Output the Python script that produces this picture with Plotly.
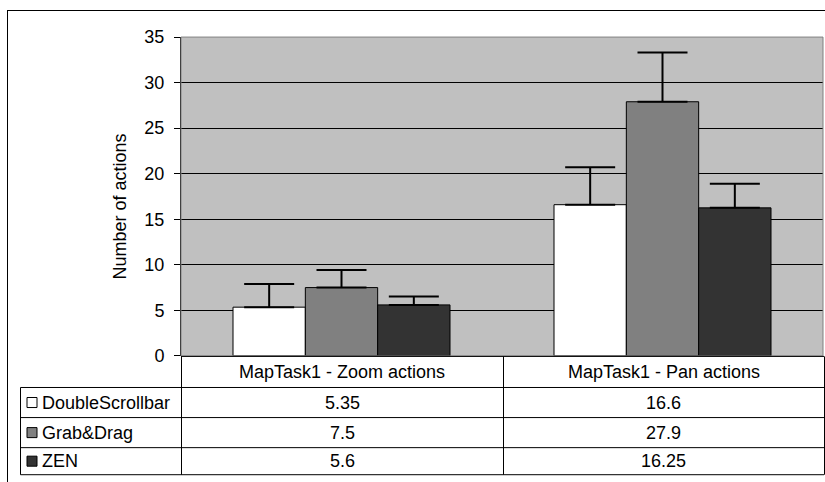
import plotly.graph_objects as go

categories = ["MapTask1 - Zoom actions", "MapTask1 - Pan actions"]
series_names = ["DoubleScrollbar", "Grab&Drag", "ZEN"]
series_values = {
    "DoubleScrollbar": [5.35, 16.6],
    "Grab&Drag": [7.5, 27.9],
    "ZEN": [5.6, 16.25],
}
series_errors = {
    "DoubleScrollbar": [2.54, 4.12],
    "Grab&Drag": [1.93, 5.4],
    "ZEN": [0.93, 2.65],
}
value_labels = {
    "DoubleScrollbar": ["5.35", "16.6"],
    "Grab&Drag": ["7.5", "27.9"],
    "ZEN": ["5.6", "16.25"],
}
colors = {"DoubleScrollbar": "#FFFFFF", "Grab&Drag": "#808080", "ZEN": "#333333"}
y_ticks = [0, 5, 10, 15, 20, 25, 30, 35]

W = 825
HF = 494          # figure height
OFF, S = 10, 0.957  # compensation for the capture's vertical offset / scale

def px(x):
    return x / W
def py(y):
    return 1 - ((y - OFF) / S) / HF

PL, PR, PT, PB = 181, 823, 37, 355
FONT = "Liberation Sans, Arial, sans-serif"

fig = go.Figure()
for name in series_names:
    fig.add_trace(go.Bar(
        x=categories, y=series_values[name], name=name,
        marker=dict(color=colors[name], line=dict(color="#000000", width=1)),
        error_y=dict(type="data", array=series_errors[name], arrayminus=[0] * len(categories),
                     symmetric=False, color="#000000", thickness=2, width=25),
        showlegend=False,
    ))

shapes = []
shapes.append(dict(type="rect", xref="paper", yref="paper", x0=px(PL), x1=px(PR), y0=py(PB), y1=py(PT),
                   line=dict(color="#808080", width=1), layer="above"))
shapes.append(dict(type="line", xref="paper", yref="paper", x0=px(7), x1=px(825), y0=py(10.5), y1=py(10.5),
                   line=dict(color="#000000", width=1)))
shapes.append(dict(type="line", xref="paper", yref="paper", x0=px(7.5), x1=px(7.5), y0=py(10), y1=0,
                   line=dict(color="#000000", width=1)))

col_x = [PL, 503, 824]
row_y = [355.5, 386.5, 416.5, 446.5, 473.5]
tbl_left = 20.5
line_style = dict(color="#000000", width=1)
shapes.append(dict(type="line", xref="paper", yref="paper", x0=px(PL), x1=px(824), y0=py(row_y[0]), y1=py(row_y[0]), line=line_style))
for ry in row_y[1:]:
    shapes.append(dict(type="line", xref="paper", yref="paper", x0=px(tbl_left), x1=px(824), y0=py(ry), y1=py(ry), line=line_style))
for cx in col_x:
    shapes.append(dict(type="line", xref="paper", yref="paper", x0=px(cx + 0.5), x1=px(cx + 0.5), y0=py(row_y[0]), y1=py(row_y[-1]), line=line_style))
shapes.append(dict(type="line", xref="paper", yref="paper", x0=px(tbl_left), x1=px(tbl_left), y0=py(row_y[1]), y1=py(row_y[-1]), line=line_style))

annotations = []
for i, cat in enumerate(categories):
    cxm = (col_x[i] + col_x[i + 1]) / 2
    annotations.append(dict(xref="paper", yref="paper", x=px(cxm), y=py((row_y[0] + row_y[1]) / 2),
                            text=cat, showarrow=False, font=dict(family=FONT, size=18, color="#000000"),
                            xanchor="center", yanchor="middle"))
for r, name in enumerate(series_names):
    yc = (row_y[r + 1] + row_y[r + 2]) / 2
    shapes.append(dict(type="rect", xref="paper", yref="paper", x0=px(27), x1=px(37), y0=py(yc + 5), y1=py(yc - 5),
                       fillcolor=colors[name], line=dict(color="#000000", width=1)))
    annotations.append(dict(xref="paper", yref="paper", x=px(40), y=py(yc), text=name, showarrow=False,
                            font=dict(family=FONT, size=18, color="#000000"), xanchor="left", yanchor="middle"))
    for i in range(len(categories)):
        cxm = (col_x[i] + col_x[i + 1]) / 2
        annotations.append(dict(xref="paper", yref="paper", x=px(cxm), y=py(yc), text=value_labels[name][i],
                                showarrow=False, font=dict(family=FONT, size=18, color="#000000"),
                                xanchor="center", yanchor="middle"))

annotations.append(dict(xref="paper", yref="paper", x=px(120), y=py(206), text="Number of actions",
                        textangle=-90, showarrow=False, font=dict(family=FONT, size=18, color="#000000"),
                        xanchor="center", yanchor="middle"))

fig.update_layout(
    width=W, height=HF,
    margin=dict(l=0, r=0, t=0, b=0),
    paper_bgcolor="#FFFFFF", plot_bgcolor="#C0C0C0",
    barmode="group", bargap=0.324, bargroupgap=0,
    shapes=shapes, annotations=annotations,
    xaxis=dict(domain=[px(PL), px(PR)], showticklabels=False, ticks="", showgrid=False, zeroline=False,
               showline=False, range=[-0.5, 1.5]),
    yaxis=dict(domain=[py(PB), py(PT)], range=[0, 35], tickvals=y_ticks, ticks="outside", ticklen=6,
               tickcolor="#000000", showline=True, linecolor="#000000", linewidth=1,
               showgrid=True, gridcolor="#000000", gridwidth=1, zeroline=False,
               tickfont=dict(family=FONT, size=18, color="#000000"), ticklabelstandoff=6),
)

fig.write_html("out.html", config={"displayModeBar": False},
               post_script="document.body.style.margin='0';document.body.style.padding='0';"
                           "document.documentElement.style.overflow='hidden';")
